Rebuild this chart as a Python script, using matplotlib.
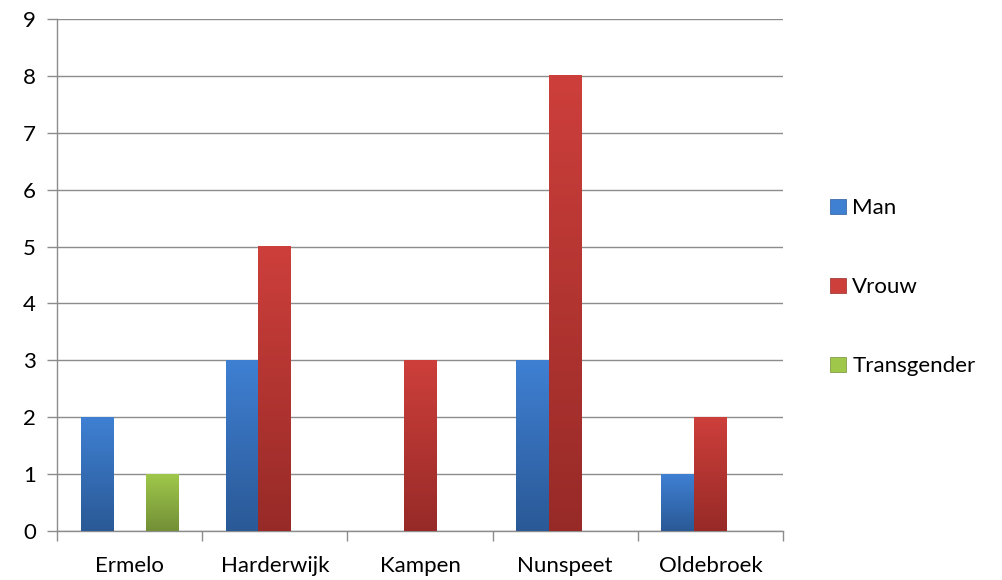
import matplotlib
matplotlib.use('Agg')
import numpy as np
import matplotlib.pyplot as plt
from matplotlib.colors import LinearSegmentedColormap
from matplotlib.patches import Patch

# Data
categories = ['Ermelo', 'Harderwijk', 'Kampen', 'Nunspeet', 'Oldebroek']
series_names = ['Man', 'Vrouw', 'Transgender']
man = [2, 3, 0, 3, 1]
vrouw = [0, 5, 3, 8, 2]
transgender = [1, 0, 0, 0, 0]

# Styling: (top colour, bottom colour) for the vertical gradient
GRADS = [('#3f80d3', '#2a5996'),
         ('#cd3f3b', '#972a27'),
         ('#9fc84a', '#738f37')]
GRID = '#8c8c8c'
FS = 16

plt.rcParams['font.family'] = ['Lato', 'DejaVu Sans']

fig = plt.figure(figsize=(10.03, 5.80), dpi=100)
ax = fig.add_axes([0.0568, 0.0845, 0.7239, 0.8828])

x = np.arange(len(categories))
width = 0.225
values = [man, vrouw, transgender]
grad = np.linspace(0, 1, 256).reshape(-1, 1)

for i, (vals, (top, bot)) in enumerate(zip(values, GRADS)):
    bars = ax.bar(x + (i - 1) * width, vals, width, color='none', edgecolor='none', zorder=3)
    cmap = LinearSegmentedColormap.from_list('g%d' % i, [top, bot])
    for b in bars:
        h = b.get_height()
        if h <= 0:
            continue
        x0 = b.get_x()
        ax.imshow(grad, cmap=cmap, aspect='auto', zorder=3,
                  extent=(x0, x0 + b.get_width(), 0, h), origin='upper')

ax.set_xlim(-0.5, len(categories) - 0.5)
ax.set_ylim(0, 9)
ax.set_yticks(range(0, 10))
ax.yaxis.grid(True, color=GRID, lw=1.0, zorder=0)
ax.set_axisbelow(True)

# category labels centred, tick marks on boundaries
ax.set_xticks(x)
ax.set_xticklabels(categories)
ax.tick_params(axis='x', length=0, pad=18, labelsize=FS)
ax.set_xticks(np.arange(-0.5, len(categories)), minor=True)
ax.tick_params(axis='x', which='minor', length=7, color=GRID, width=1)
ax.tick_params(axis='y', length=7, color=GRID, width=1, labelsize=FS, pad=8)

for s in ['top', 'right']:
    ax.spines[s].set_visible(False)
for s in ['left', 'bottom']:
    ax.spines[s].set_color(GRID)
    ax.spines[s].set_linewidth(1)

handles = [Patch(facecolor=g[0], edgecolor=g[1], lw=0.5) for g in GRADS]
fig.legend(handles, series_names, loc='center left', bbox_to_anchor=(0.808, 0.505),
           frameon=False, fontsize=FS, handlelength=0.68, handleheight=0.68,
           handletextpad=0.3, labelspacing=2.66)

fig.savefig('out.png', dpi=100)
